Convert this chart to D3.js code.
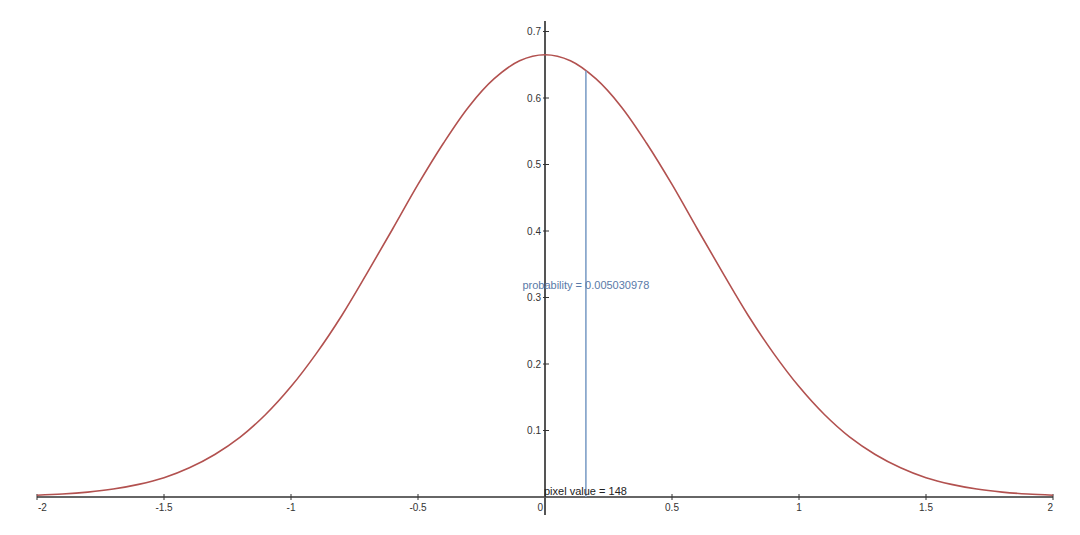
<!DOCTYPE html>
<html><head><meta charset="utf-8">
<script src="https://cdn.jsdelivr.net/npm/d3@7"></script>
<style>body{margin:0;background:#fff;}svg{display:block;font-family:"Liberation Sans",Arial,sans-serif;}</style>
</head><body><svg id="c" width="1080" height="535"></svg>
<script>
const xs = [-2,-1.9,-1.8,-1.7,-1.6,-1.5,-1.4,-1.3,-1.2,-1.1,-1,-0.9,-0.8,-0.7,-0.6,-0.5,-0.4,-0.3,-0.2,-0.1,0,0.1,0.2,0.3,0.4,0.5,0.6,0.7,0.8,0.9,1,1.1,1.2,1.3,1.4,1.5,1.6,1.7,1.8,1.9,2];
const ys = [0.0026,0.0044,0.0074,0.012,0.019,0.029,0.044,0.064,0.090,0.124,0.166,0.216,0.273,0.337,0.403,0.470,0.532,0.587,0.629,0.656,0.665,0.656,0.629,0.587,0.532,0.470,0.403,0.337,0.273,0.216,0.166,0.124,0.090,0.064,0.044,0.029,0.019,0.012,0.0074,0.0044,0.0026];
const xTicks = [-2,-1.5,-1,-0.5,0,0.5,1,1.5,2];
const xTickLabels = ["-2","-1.5","-1","-0.5","0","0.5","1","1.5","2"];
const yTicks = [0.1,0.2,0.3,0.4,0.5,0.6,0.7];
const yTickLabels = ["0.1","0.2","0.3","0.4","0.5","0.6","0.7"];
const markerX = [0.161];
const markerY = [0.641];
const probText = "probability = 0.005030978";
const pixelText = "pixel value = 148";

const svg = d3.select("#c");
const x = d3.scaleLinear().domain([-2,2]).range([37,1053]);
const y = d3.scaleLinear().domain([0,0.7]).range([497,31.5]);

// x axis
const gx = svg.append("g").attr("transform",`translate(0,${y(0)})`);
gx.append("line").attr("x1",x(-2)).attr("x2",x(2)).attr("stroke","#333").attr("stroke-width",1.5);
xTicks.forEach((t,i)=>{
  gx.append("line").attr("x1",x(t)).attr("x2",x(t)).attr("y1",-3).attr("y2",3).attr("stroke","#333").attr("stroke-width",1);
  let anchor = "middle", dx = 0;
  if (i===0) {anchor="start"; dx=1;}
  if (i===xTicks.length-1) {anchor="end"; dx=0;}
  if (t===0) {anchor="end"; dx=-2;}
  gx.append("text").attr("x",x(t)+dx).attr("y",14).attr("text-anchor",anchor)
    .attr("font-size",10).attr("fill","#333").text(xTickLabels[i]);
});

// y axis
const gy = svg.append("g").attr("transform",`translate(${x(0)},0)`);
gy.append("line").attr("y1",21).attr("y2",515).attr("stroke","#555").attr("stroke-width",2);
yTicks.forEach((t,i)=>{
  gy.append("line").attr("x1",-2).attr("x2",4).attr("y1",y(t)).attr("y2",y(t)).attr("stroke","#333").attr("stroke-width",1);
  gy.append("text").attr("x",-4).attr("y",y(t)).attr("dy","0.35em").attr("text-anchor","end")
    .attr("font-size",10).attr("fill","#333").text(yTickLabels[i]);
});

// curve
const line = d3.line().x((d,i)=>x(xs[i])).y((d,i)=>y(ys[i])).curve(d3.curveCatmullRom);
svg.append("path").datum(xs).attr("d",line).attr("fill","none").attr("stroke","#b2514f").attr("stroke-width",1.6);

// marker line
svg.append("line").attr("x1",x(markerX[0])).attr("x2",x(markerX[0])).attr("y1",y(0)).attr("y2",y(markerY[0]))
  .attr("stroke","#7e9fc7").attr("stroke-width",1.6);
svg.append("text").attr("x",x(markerX[0])).attr("y",289).attr("text-anchor","middle")
  .attr("font-size",11).attr("fill","#5a7aa8").text(probText);
svg.append("text").attr("x",x(0)-1).attr("y",495).attr("text-anchor","start")
  .attr("font-size",11).attr("fill","#222").text(pixelText);
</script></body></html>
